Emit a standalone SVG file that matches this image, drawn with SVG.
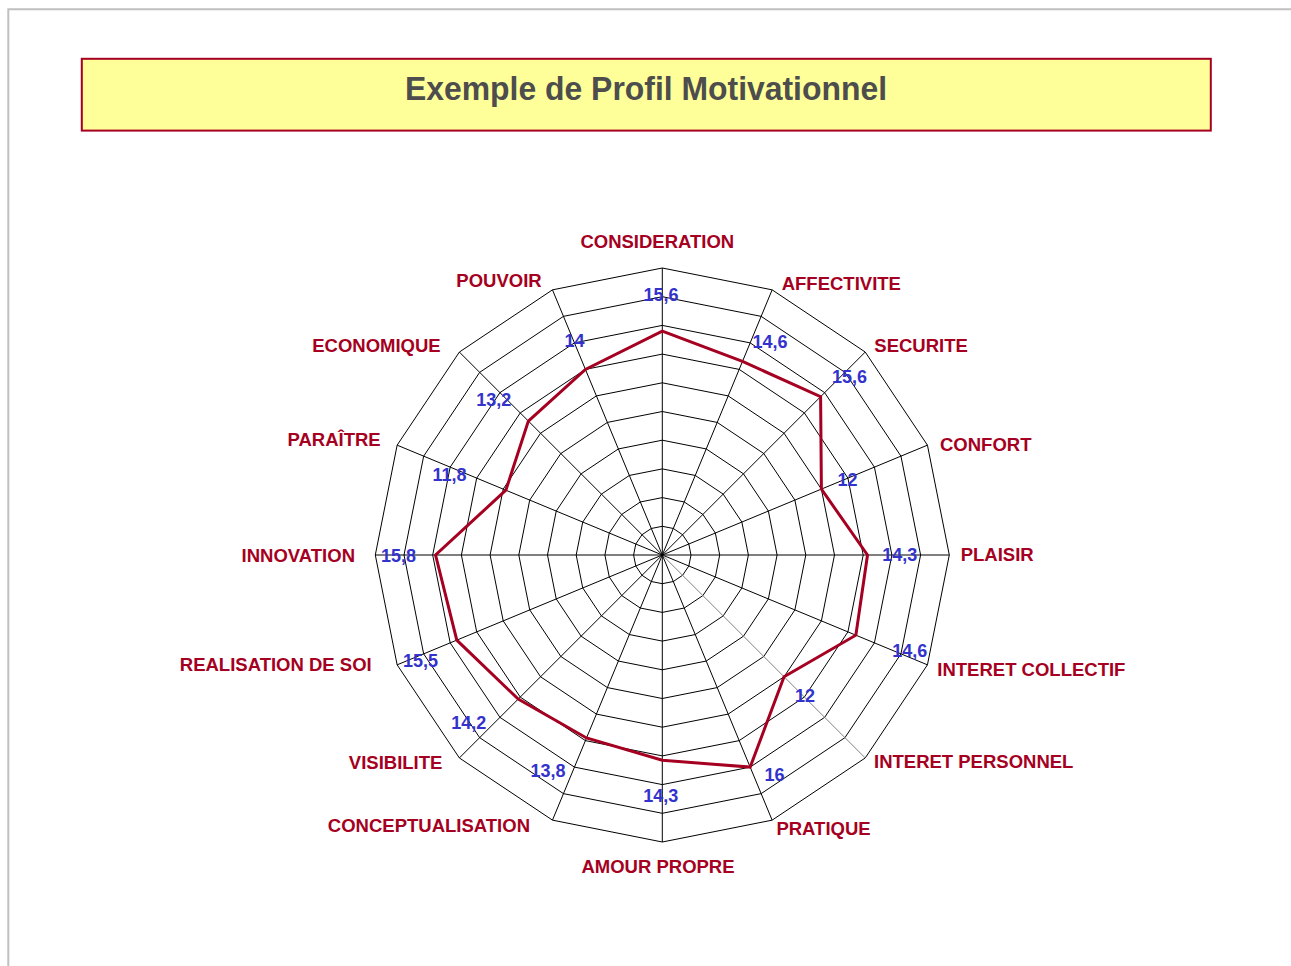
<svg xmlns="http://www.w3.org/2000/svg" width="1291" height="966" viewBox="0 0 1291 966">
<style>
.ring{fill:none;stroke:#000;stroke-width:1}
.spoke{stroke:#000;stroke-width:1}
.cat{font-family:"Liberation Sans",Arial,sans-serif;font-weight:bold;font-size:18.5px;fill:#A50021}
.val{font-family:"Liberation Sans",Arial,sans-serif;font-weight:bold;font-size:18px;fill:#3333CC;text-anchor:middle}
.s{text-anchor:start}
.e{text-anchor:end}
.m{text-anchor:middle}
</style>
<rect x="0" y="0" width="1291" height="966" fill="#fff"/>
<path d="M8.3 966 V9.3 H1291" fill="none" stroke="#C0C0C0" stroke-width="2"/>
<g id="title">
<rect x="81.8" y="58.8" width="1129" height="71.8" fill="#FFFF99" stroke="#A50021" stroke-width="2"/>
<text x="646" y="99.5" font-family="'Liberation Sans',Arial,sans-serif" font-weight="bold" font-size="33" fill="#4D4D4D" text-anchor="middle" textLength="482" lengthAdjust="spacingAndGlyphs">Exemple de Profil Motivationnel</text>
</g>
<g id="grid" transform="translate(662.3,555)">
<polygon class="ring" points="0,-28.7 10.98,-26.52 20.29,-20.29 26.52,-10.98 28.7,0 26.52,10.98 20.29,20.29 10.98,26.52 0,28.7 -10.98,26.52 -20.29,20.29 -26.52,10.98 -28.7,0 -26.52,-10.98 -20.29,-20.29 -10.98,-26.52"/>
<polygon class="ring" points="0,-57.4 21.97,-53.03 40.59,-40.59 53.03,-21.97 57.4,0 53.03,21.97 40.59,40.59 21.97,53.03 0,57.4 -21.97,53.03 -40.59,40.59 -53.03,21.97 -57.4,0 -53.03,-21.97 -40.59,-40.59 -21.97,-53.03"/>
<polygon class="ring" points="0,-86.1 32.95,-79.55 60.88,-60.88 79.55,-32.95 86.1,0 79.55,32.95 60.88,60.88 32.95,79.55 0,86.1 -32.95,79.55 -60.88,60.88 -79.55,32.95 -86.1,0 -79.55,-32.95 -60.88,-60.88 -32.95,-79.55"/>
<polygon class="ring" points="0,-114.8 43.93,-106.06 81.18,-81.18 106.06,-43.93 114.8,0 106.06,43.93 81.18,81.18 43.93,106.06 0,114.8 -43.93,106.06 -81.18,81.18 -106.06,43.93 -114.8,0 -106.06,-43.93 -81.18,-81.18 -43.93,-106.06"/>
<polygon class="ring" points="0,-143.5 54.91,-132.58 101.47,-101.47 132.58,-54.91 143.5,0 132.58,54.91 101.47,101.47 54.91,132.58 0,143.5 -54.91,132.58 -101.47,101.47 -132.58,54.91 -143.5,0 -132.58,-54.91 -101.47,-101.47 -54.91,-132.58"/>
<polygon class="ring" points="0,-172.2 65.9,-159.09 121.76,-121.76 159.09,-65.9 172.2,0 159.09,65.9 121.76,121.76 65.9,159.09 0,172.2 -65.9,159.09 -121.76,121.76 -159.09,65.9 -172.2,0 -159.09,-65.9 -121.76,-121.76 -65.9,-159.09"/>
<polygon class="ring" points="0,-200.9 76.88,-185.61 142.06,-142.06 185.61,-76.88 200.9,0 185.61,76.88 142.06,142.06 76.88,185.61 0,200.9 -76.88,185.61 -142.06,142.06 -185.61,76.88 -200.9,0 -185.61,-76.88 -142.06,-142.06 -76.88,-185.61"/>
<polygon class="ring" points="0,-229.6 87.86,-212.12 162.35,-162.35 212.12,-87.86 229.6,0 212.12,87.86 162.35,162.35 87.86,212.12 0,229.6 -87.86,212.12 -162.35,162.35 -212.12,87.86 -229.6,0 -212.12,-87.86 -162.35,-162.35 -87.86,-212.12"/>
<polygon class="ring" points="0,-258.3 98.85,-238.64 182.65,-182.65 238.64,-98.85 258.3,0 238.64,98.85 182.65,182.65 98.85,238.64 0,258.3 -98.85,238.64 -182.65,182.65 -238.64,98.85 -258.3,0 -238.64,-98.85 -182.65,-182.65 -98.85,-238.64"/>
<polygon class="ring" points="0,-287 109.83,-265.15 202.94,-202.94 265.15,-109.83 287,0 265.15,109.83 202.94,202.94 109.83,265.15 0,287 -109.83,265.15 -202.94,202.94 -265.15,109.83 -287,0 -265.15,-109.83 -202.94,-202.94 -109.83,-265.15"/>
</g>
<g id="connectors" transform="translate(662.3,555)">
<line class="spoke" x1="0" y1="0" x2="0" y2="-287"/>
<line class="spoke" x1="0" y1="0" x2="109.83" y2="-265.15"/>
<line class="spoke" x1="0" y1="0" x2="202.94" y2="-202.94"/>
<line class="spoke" x1="0" y1="0" x2="265.15" y2="-109.83"/>
<line class="spoke" x1="0" y1="0" x2="287" y2="0"/>
<line class="spoke" x1="0" y1="0" x2="265.15" y2="109.83"/>
<line class="spoke" x1="0" y1="0" x2="202.94" y2="202.94" style="stroke:#808080"/>
<line class="spoke" x1="0" y1="0" x2="109.83" y2="265.15"/>
<line class="spoke" x1="0" y1="0" x2="0" y2="287"/>
<line class="spoke" x1="0" y1="0" x2="-109.83" y2="265.15"/>
<line class="spoke" x1="0" y1="0" x2="-202.94" y2="202.94"/>
<line class="spoke" x1="0" y1="0" x2="-265.15" y2="109.83"/>
<line class="spoke" x1="0" y1="0" x2="-287" y2="0"/>
<line class="spoke" x1="0" y1="0" x2="-265.15" y2="-109.83"/>
<line class="spoke" x1="0" y1="0" x2="-202.94" y2="-202.94"/>
<line class="spoke" x1="0" y1="0" x2="-109.83" y2="-265.15"/>
<polygon id="profil" fill="none" stroke="#A50021" stroke-width="3" stroke-linejoin="miter" points="0,-223.86 80.18,-193.56 158.3,-158.3 159.09,-65.9 205.21,0 193.56,80.18 121.76,121.76 87.86,212.12 0,205.21 -75.78,182.95 -144.09,144.09 -205.5,85.12 -226.73,0 -156.44,-64.8 -133.94,-133.94 -76.88,-185.61"/>
</g>
<g id="ax-consideration"><text class="cat m" x="657.3" y="248">CONSIDERATION</text><text class="val" x="661" y="301">15,6</text></g>
<g id="ax-affectivite"><text class="cat s" x="781.7" y="289.5">AFFECTIVITE</text><text class="val" x="770" y="348.3">14,6</text></g>
<g id="ax-securite"><text class="cat s" x="874.3" y="351.7">SECURITE</text><text class="val" x="849.5" y="383.3">15,6</text></g>
<g id="ax-confort"><text class="cat s" x="940" y="451">CONFORT</text><text class="val" x="847.5" y="486">12</text></g>
<g id="ax-plaisir"><text class="cat s" x="960.7" y="561">PLAISIR</text><text class="val" x="899.7" y="561">14,3</text></g>
<g id="ax-interet-collectif"><text class="cat s" x="937.3" y="675.7">INTERET COLLECTIF</text><text class="val" x="909.7" y="657">14,6</text></g>
<g id="ax-interet-personnel"><text class="cat s" x="874" y="768.3">INTERET PERSONNEL</text><text class="val" x="805" y="701.7">12</text></g>
<g id="ax-pratique"><text class="cat s" x="776.4" y="835">PRATIQUE</text><text class="val" x="774.5" y="780.7">16</text></g>
<g id="ax-amour-propre"><text class="cat m" x="658" y="873">AMOUR PROPRE</text><text class="val" x="660.7" y="801.7">14,3</text></g>
<g id="ax-conceptualisation"><text class="cat e" x="530" y="831.7">CONCEPTUALISATION</text><text class="val" x="548" y="776.7">13,8</text></g>
<g id="ax-visibilite"><text class="cat e" x="442.4" y="768.5">VISIBILITE</text><text class="val" x="468.8" y="729.3">14,2</text></g>
<g id="ax-realisation"><text class="cat e" x="371.7" y="670.7">REALISATION DE SOI</text><text class="val" x="420.5" y="667.3">15,5</text></g>
<g id="ax-innovation"><text class="cat e" x="355" y="561.7">INNOVATION</text><text class="val" x="398.5" y="561.7">15,8</text></g>
<g id="ax-paraitre"><text class="cat e" x="380.7" y="446">PARAÎTRE</text><text class="val" x="449.5" y="481">11,8</text></g>
<g id="ax-economique"><text class="cat e" x="440.7" y="351.7">ECONOMIQUE</text><text class="val" x="493.7" y="405.7">13,2</text></g>
<g id="ax-pouvoir"><text class="cat e" x="541.7" y="286.7">POUVOIR</text><text class="val" x="574.5" y="347.3">14</text></g>
</svg>
